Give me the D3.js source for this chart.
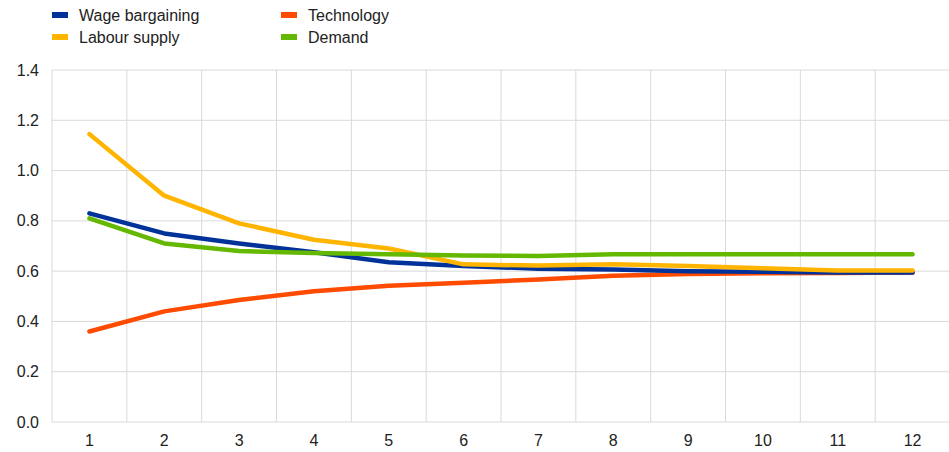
<!DOCTYPE html>
<html><head><meta charset="utf-8">
<script src="https://cdn.jsdelivr.net/npm/d3@7"></script>
<style>body{margin:0;background:#fff;font-family:Arial,"Liberation Sans",sans-serif;}</style>
</head><body><svg id="c" width="949" height="452"></svg>
<script>
const categories = ["1","2","3","4","5","6","7","8","9","10","11","12"];
const wageBargaining = [0.83,0.75,0.71,0.675,0.635,0.62,0.61,0.607,0.60,0.598,0.595,0.595];
const labourSupply   = [1.145,0.90,0.79,0.725,0.69,0.627,0.622,0.627,0.62,0.612,0.603,0.603];
const technology     = [0.36,0.44,0.485,0.52,0.542,0.554,0.567,0.582,0.589,0.592,0.593,0.595];
const demand         = [0.81,0.71,0.68,0.672,0.667,0.662,0.66,0.667,0.667,0.667,0.667,0.667];
const yTicks = [0,0.2,0.4,0.6,0.8,1.0,1.2,1.4];
const series = [
  {name:"Wage bargaining", values:wageBargaining, color:"#003299"},
  {name:"Technology", values:technology, color:"#FF4B00"},
  {name:"Labour supply", values:labourSupply, color:"#FFB400"},
  {name:"Demand", values:demand, color:"#65B800"}
];
const svg = d3.select("#c");
const mLeft=52, mRight=950, mTop=70, mBottom=422;
const x = d3.scaleBand().domain(categories).range([mLeft,mRight]);
const y = d3.scaleLinear().domain([0,1.4]).range([mBottom,mTop]);
const grid = "#d9d9d9";
const fs = 16;
svg.append("g").selectAll("line").data(yTicks).join("line")
  .attr("x1",mLeft).attr("x2",mRight).attr("y1",d=>y(d)).attr("y2",d=>y(d))
  .attr("stroke",grid).attr("stroke-width",1);
const bounds = categories.map(c=>x(c)).concat([mRight]);
svg.append("g").selectAll("line").data(bounds).join("line")
  .attr("x1",d=>d).attr("x2",d=>d).attr("y1",mTop).attr("y2",mBottom)
  .attr("stroke",grid).attr("stroke-width",1);
svg.append("g").selectAll("text").data(yTicks).join("text")
  .attr("x",39).attr("y",d=>y(d)+5.5).attr("text-anchor","end")
  .attr("font-size",fs).attr("fill","#222").text(d=>d.toFixed(1));
svg.append("g").selectAll("text").data(categories).join("text")
  .attr("x",d=>x(d)+x.bandwidth()/2).attr("y",446).attr("text-anchor","middle")
  .attr("font-size",fs).attr("fill","#222").text(d=>d);
const line = d3.line().x((d,i)=>x(categories[i])+x.bandwidth()/2).y(d=>y(d));
const order = ["Technology","Wage bargaining","Labour supply","Demand"];
order.forEach(n=>{
  const s = series.find(t=>t.name===n);
  svg.append("path").attr("d",line(s.values)).attr("fill","none")
    .attr("stroke",s.color).attr("stroke-width",4.5)
    .attr("stroke-linecap","round").attr("stroke-linejoin","round");
});
const leg = [
  {s:series[0], x:52, y:15},
  {s:series[1], x:281, y:15},
  {s:series[2], x:52, y:37},
  {s:series[3], x:281, y:37}
];
leg.forEach(l=>{
  svg.append("rect").attr("x",l.x).attr("y",l.y-3).attr("width",16).attr("height",6).attr("fill",l.s.color);
  svg.append("text").attr("x",l.x+27).attr("y",l.y+5.5).attr("font-size",fs).attr("fill","#222").text(l.s.name);
});
</script></body></html>
